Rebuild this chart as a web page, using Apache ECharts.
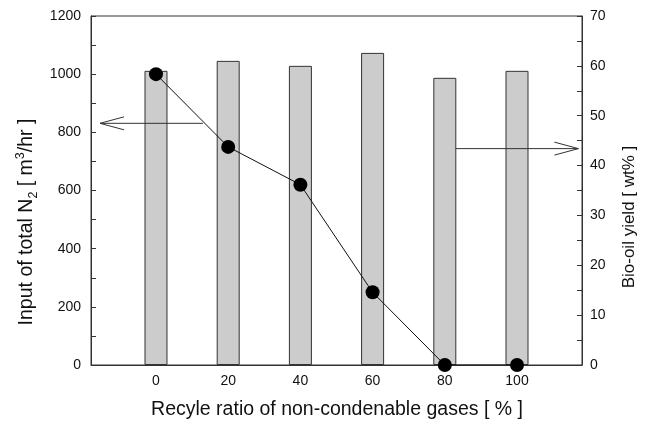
<!DOCTYPE html>
<html>
<head>
<meta charset="utf-8">
<script src="https://cdn.jsdelivr.net/npm/echarts@6/dist/echarts.min.js"></script>
<style>
html,body{margin:0;padding:0;background:#fff;}
#chart{width:648px;height:421px;}
</style>
</head>
<body>
<div id="chart"></div>
<script>
// Data
var recycleRatio = [0, 20, 40, 60, 80, 100];
var bioOilYield = [59.0, 61.0, 60.0, 62.6, 57.6, 59.0];      // wt%, right axis (bars)
var totalN2Input = [1000, 750, 620, 250, 0, 0];              // m3/hr, left axis (line)
var xTickLabels = [0, 20, 40, 60, 80, 100];
var leftTicks = [0, 200, 400, 600, 800, 1000, 1200];
var rightTicks = [0, 10, 20, 30, 40, 50, 60, 70];
// annotation arrows: [y value, x from, x to]
var leftArrow = [831, 13, -15.5];
var rightArrow = [43.4, 83, 117];

var FONT = 'Liberation Sans, Arial, sans-serif';
var AX = '#333';
var TXT = '#111';

var chart = echarts.init(document.getElementById('chart'), null, {renderer: 'canvas'});

var barData = recycleRatio.map(function (x, i) { return [x, bioOilYield[i]]; });
var lineData = recycleRatio.map(function (x, i) { return [x, totalN2Input[i]]; });
var plain = function (v) { return String(v); };

var option = {
  backgroundColor: '#fff',
  animation: false,
  grid: {left: 91, right: 66, top: 16, bottom: 56, show: true, borderColor: AX, borderWidth: 1, backgroundColor: 'transparent'},
  xAxis: {
    type: 'value', min: -18, max: 118,
    axisLine: {show: true, onZero: false, lineStyle: {color: AX, width: 1}},
    axisTick: {show: false},
    splitLine: {show: false},
    axisLabel: {customValues: xTickLabels, formatter: plain, color: TXT, fontFamily: FONT, fontSize: 14, margin: 9}
  },
  yAxis: [
    {
      type: 'value', position: 'left', min: leftTicks[0], max: leftTicks[leftTicks.length - 1], interval: 200,
      axisLine: {show: true, onZero: false, lineStyle: {color: AX, width: 1}},
      axisTick: {show: true, inside: true, length: 5, lineStyle: {color: AX}},
      minorTick: {show: true, splitNumber: 2, length: 5, lineStyle: {color: AX}},
      splitLine: {show: false},
      axisLabel: {formatter: plain, color: TXT, fontFamily: FONT, fontSize: 14, margin: 10}
    },
    {
      type: 'value', position: 'right', min: rightTicks[0], max: rightTicks[rightTicks.length - 1], interval: 10,
      axisLine: {show: true, onZero: false, lineStyle: {color: AX, width: 1}},
      axisTick: {show: true, inside: true, length: 5, lineStyle: {color: AX}},
      minorTick: {show: true, splitNumber: 2, length: 5, lineStyle: {color: AX}},
      splitLine: {show: false},
      axisLabel: {formatter: plain, color: TXT, fontFamily: FONT, fontSize: 14, margin: 8}
    }
  ],
  series: [
    {
      type: 'bar', name: 'Bio-oil yield', xAxisIndex: 0, yAxisIndex: 1,
      data: barData, barWidth: 23,
      itemStyle: {color: '#cccccc', borderColor: AX, borderWidth: 1}
    },
    {
      type: 'line', name: 'Input of total N2', xAxisIndex: 0, yAxisIndex: 0,
      data: lineData, symbol: 'circle', symbolSize: 14,
      lineStyle: {color: '#111', width: 1},
      itemStyle: {color: '#000'},
      z: 5
    }
  ]
};
chart.setOption(option);

function arrowShapes(arr, yAxisIndex) {
  var p0 = chart.convertToPixel({xAxisIndex: 0, yAxisIndex: yAxisIndex}, [arr[1], arr[0]]);
  var p1 = chart.convertToPixel({xAxisIndex: 0, yAxisIndex: yAxisIndex}, [arr[2], arr[0]]);
  var dir = p1[0] > p0[0] ? 1 : -1;
  var headLen = 24, headHalf = 6.5;
  return [
    {type: 'line', shape: {x1: p0[0], y1: p0[1], x2: p1[0], y2: p1[1]}, style: {stroke: AX, lineWidth: 1}, z: 10},
    {type: 'polyline', shape: {points: [[p1[0] - dir * headLen, p1[1] - headHalf], [p1[0], p1[1]], [p1[0] - dir * headLen, p1[1] + headHalf]]}, style: {stroke: AX, lineWidth: 1, fill: null}, z: 10}
  ];
}

var graphics = [].concat(arrowShapes(leftArrow, 0), arrowShapes(rightArrow, 1));
graphics.push({
  type: 'text', x: 27, y: 222, rotation: Math.PI / 2,
  style: {
    text: '{a|Input of total N}{s|2}{a| [ m}{p|3}{a|/hr ]}',
    align: 'center', verticalAlign: 'middle',
    rich: {
      a: {fontSize: 19.5, fontFamily: FONT, fill: TXT, lineHeight: 26},
      s: {fontSize: 12.5, fontFamily: FONT, fill: TXT, lineHeight: 13, verticalAlign: 'bottom'},
      p: {fontSize: 12.5, fontFamily: FONT, fill: TXT, lineHeight: 13, verticalAlign: 'top'}
    }
  }
});
graphics.push({
  type: 'text', x: 629, y: 217, rotation: Math.PI / 2,
  style: {text: 'Bio-oil yield [ wt% ]', align: 'center', verticalAlign: 'middle', fontSize: 17, fontFamily: FONT, fill: TXT}
});
graphics.push({
  type: 'text', x: 337, y: 410,
  style: {text: 'Recyle ratio of non-condenable gases [ % ]', align: 'center', verticalAlign: 'middle', fontSize: 19.5, fontFamily: FONT, fill: TXT}
});
chart.setOption({graphic: graphics});
</script>
</body>
</html>
